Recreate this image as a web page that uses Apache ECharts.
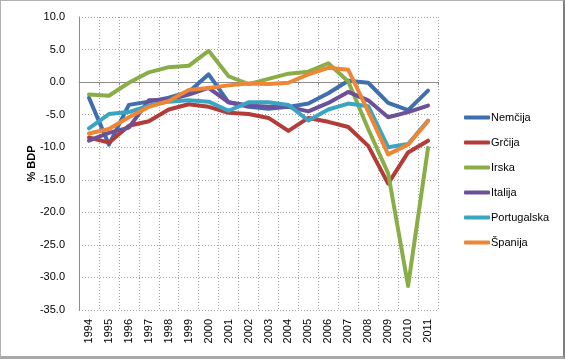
<!DOCTYPE html>
<html>
<head>
<meta charset="utf-8">
<script src="https://cdn.jsdelivr.net/npm/echarts@6/dist/echarts.min.js"></script>
<style>
html,body{margin:0;padding:0;background:#fff;}
#wrap{position:absolute;left:0;top:0;width:565px;height:359px;box-sizing:border-box;border-top:1px solid #b0b0b0;border-left:1px solid #b0b0b0;border-right:2px solid #808080;border-bottom:3px solid #a8a8a8;}
#chart{position:absolute;left:0;top:0;width:565px;height:359px;}
</style>
</head>
<body>
<div id="chart"></div>
<div id="wrap"></div>
<script>
const years = ['1994','1995','1996','1997','1998','1999','2000','2001','2002','2003','2004','2005','2006','2007','2008','2009','2010','2011'];
const nemcija     = [-2.4, -9.6, -3.5, -3.0, -2.4, -1.5, 1.2, -3.1, -3.8, -4.1, -3.8, -3.3, -1.7, 0.2, -0.1, -3.2, -4.3, -1.3];
const grcija      = [-8.5, -9.3, -6.7, -6.0, -4.2, -3.4, -3.8, -4.7, -4.9, -5.5, -7.5, -5.5, -6.1, -6.9, -9.8, -15.6, -10.8, -9.0];
const irska       = [-1.9, -2.1, -0.1, 1.5, 2.3, 2.5, 4.8, 0.9, -0.3, 0.5, 1.3, 1.6, 2.9, 0.1, -7.2, -14.0, -31.3, -10.1];
const italija     = [-9.0, -7.8, -7.0, -2.8, -2.7, -1.9, -0.9, -3.1, -3.6, -3.8, -3.8, -4.5, -3.2, -1.5, -2.8, -5.4, -4.6, -3.6];
const portugalska = [-7.1, -4.9, -4.6, -3.6, -3.0, -2.8, -3.0, -4.4, -3.1, -3.1, -3.5, -5.9, -4.2, -3.3, -3.7, -10.0, -9.5, -5.9];
const spanija     = [-7.9, -7.2, -5.4, -3.8, -2.9, -1.2, -0.9, -0.5, -0.2, -0.3, -0.1, 1.2, 2.2, 1.9, -4.5, -11.1, -9.6, -6.0];
const yTicks = ['-35.0','-30.0','-25.0','-20.0','-15.0','-10.0','-5.0','0.0','5.0','10.0'];

const names = ['Nemčija','Grčija','Irska','Italija','Portugalska','Španija'];
const datas = [nemcija, grcija, irska, italija, portugalska, spanija];
const colors = ['#3f6fae','#b43c38','#8aad47','#6c509a','#3ba4c2','#ee8636'];

const chart = echarts.init(document.getElementById('chart'));
const font = 'Liberation Sans, Arial, sans-serif';
chart.setOption({
  animation: false,
  color: colors,
  grid: {left: 79, right: 127, top: 17, bottom: 49},
  legend: {
    orient: 'vertical', left: 459, top: 107,
    itemWidth: 26, itemHeight: 4, itemGap: 14,
    icon: 'roundRect',
    textStyle: {fontFamily: font, fontSize: 11, color: '#000', padding: [0,0,0,-4]},
    data: names
  },
  xAxis: [{
    type: 'category', data: years, boundaryGap: true, position: 'bottom',
    axisLine: {show: false, onZero: false}, axisTick: {show: false},
    axisLabel: {rotate: 90, fontFamily: font, fontSize: 11, color: '#000', margin: 9, interval: 0},
    splitLine: {show: true, interval: 0, lineStyle: {color: '#a0a0a0', type: [1, 2], width: 1}}
  }, {
    type: 'category', data: years, boundaryGap: true, position: 'bottom',
    axisLine: {show: true, onZero: true, lineStyle: {color: '#8c8c8c', width: 1}},
    axisTick: {show: true, interval: 0, length: 3, inside: false, lineStyle: {color: '#8c8c8c'}},
    axisLabel: {show: false}, splitLine: {show: false}
  }],
  yAxis: {
    type: 'value', min: -35, max: 10, interval: 5,
    name: '% BDP', nameLocation: 'middle', nameGap: 42, nameRotate: 90, nameMoveOverlap: false,
    nameTextStyle: {fontFamily: font, fontSize: 11, fontWeight: 'bold', color: '#000'},
    axisLine: {show: true, lineStyle: {color: '#8c8c8c'}},
    axisTick: {show: false},
    axisLabel: {fontFamily: font, fontSize: 11, color: '#000', margin: 14, formatter: v => yTicks[(v + 35) / 5]},
    splitLine: {show: true, lineStyle: {color: '#a0a0a0', type: [1, 2], width: 1}}
  },
  series: names.map((n, i) => ({
    name: n, type: 'line', data: datas[i], showSymbol: false, symbol: 'none',
    lineStyle: {width: 4, color: colors[i], join: 'round', cap: 'round'},
    itemStyle: {color: colors[i]}
  }))
});
</script>
</body>
</html>
